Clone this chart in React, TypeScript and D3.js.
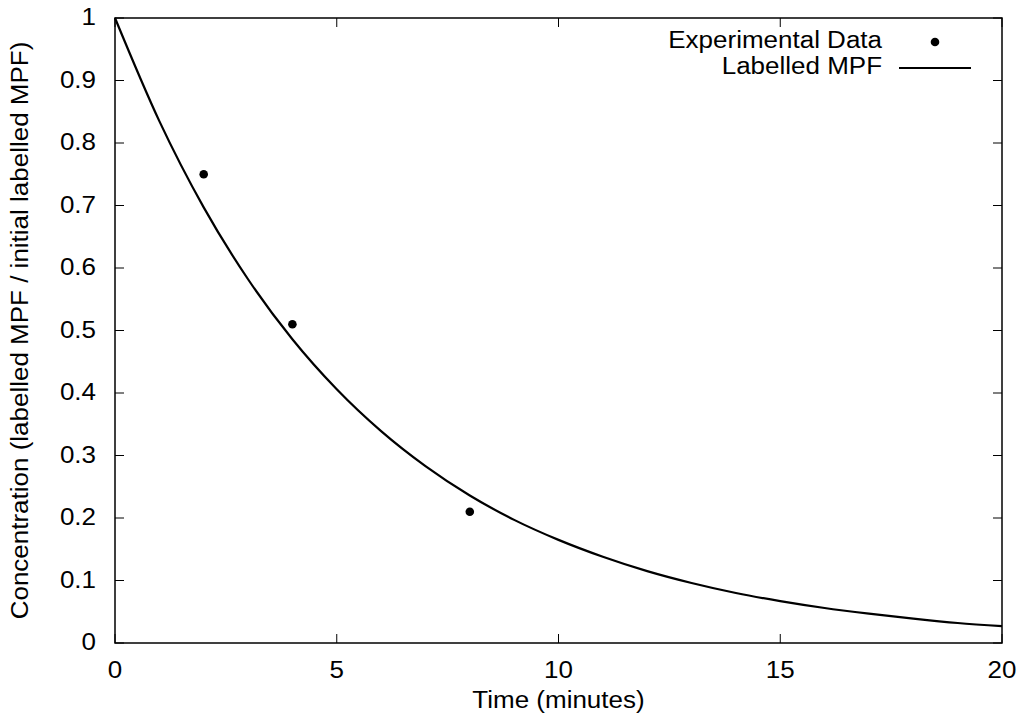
import React, { useEffect, useRef } from 'react';
import * as d3 from 'd3';

// fitted decay curve at each minute
const curveTimes = [0, 1, 2, 3, 4, 5, 6, 7, 8, 9, 10, 11, 12, 13, 14, 15, 16, 17, 18, 19, 20];
const curveValues = [1, 0.835, 0.697, 0.582, 0.486, 0.406, 0.339, 0.283, 0.236, 0.197, 0.165,
  0.138, 0.115, 0.096, 0.080, 0.067, 0.056, 0.047, 0.039, 0.032, 0.027];

// measured points
const expTimes = [2, 4, 8];
const expValues = [0.75, 0.51, 0.21];

const xTicks = [0, 5, 10, 15, 20];
const yTicks = [0, 0.1, 0.2, 0.3, 0.4, 0.5, 0.6, 0.7, 0.8, 0.9, 1];

const legendLabels = ['Experimental Data', 'Labelled MPF'];

const W = 1024;
const H = 727;
const FONT = '"Liberation Sans", Arial, sans-serif';
const STRETCH = 1.13; // the gnuplot font is a bit wider than Liberation Sans

const DecayChart = () => {
  const ref = useRef<SVGSVGElement>(null);

  useEffect(() => {
    const margin = { top: 18, right: 22, bottom: 84, left: 115 };
    const innerWidth = W - margin.left - margin.right;
    const innerHeight = H - margin.top - margin.bottom;

    const svg = d3.select(ref.current);
    svg.selectAll('*').remove();

    // text helper: place at (tx,ty), optional rotation, widened along the reading direction
    const label = (parent: any, tx: number, ty: number, str: string, anchor: string, rot = 0) =>
      parent.append('text')
        .attr('transform', `translate(${tx},${ty}) rotate(${rot}) scale(${STRETCH},1)`)
        .attr('text-anchor', anchor)
        .attr('dominant-baseline', 'middle')
        .style('font-family', FONT).style('font-size', '23px')
        .text(str);

    const g = svg.append('g')
      .attr('transform', `translate(${margin.left},${margin.top})`);

    const x = d3.scaleLinear().domain([0, 20]).range([0, innerWidth]);
    const y = d3.scaleLinear().domain([0, 1]).range([innerHeight, 0]);

    const tick = 9;

    // ticks (mirrored, pointing inward)
    xTicks.forEach(t => {
      g.append('line').attr('x1', x(t)).attr('x2', x(t))
        .attr('y1', innerHeight).attr('y2', innerHeight - tick)
        .attr('stroke', '#000').attr('stroke-width', 1);
      g.append('line').attr('x1', x(t)).attr('x2', x(t))
        .attr('y1', 0).attr('y2', tick)
        .attr('stroke', '#000').attr('stroke-width', 1);
      label(g, x(t), innerHeight + 29, d3.format('d')(t), 'middle');
    });

    yTicks.forEach(t => {
      g.append('line').attr('x1', 0).attr('x2', tick)
        .attr('y1', y(t)).attr('y2', y(t))
        .attr('stroke', '#000').attr('stroke-width', 1);
      g.append('line').attr('x1', innerWidth).attr('x2', innerWidth - tick)
        .attr('y1', y(t)).attr('y2', y(t))
        .attr('stroke', '#000').attr('stroke-width', 1);
      label(g, -19, y(t) + 1, t === 0 || t === 1 ? String(t) : d3.format('.1f')(t), 'end');
    });

    // frame
    g.append('rect')
      .attr('width', innerWidth).attr('height', innerHeight)
      .attr('fill', 'none').attr('stroke', '#000').attr('stroke-width', 1.5);

    // model curve
    const line = d3.line<number>()
      .x((_, i) => x(curveTimes[i]))
      .y(d => y(d))
      .curve(d3.curveMonotoneX);

    g.append('path')
      .datum(curveValues)
      .attr('d', line)
      .attr('fill', 'none')
      .attr('stroke', '#000')
      .attr('stroke-width', 2.2);

    // experimental points
    g.selectAll('circle.pt')
      .data(expValues)
      .enter().append('circle')
      .attr('class', 'pt')
      .attr('cx', (_, i) => x(expTimes[i]))
      .attr('cy', d => y(d))
      .attr('r', 4.3)
      .attr('fill', '#000');

    // axis titles
    label(svg, margin.left + innerWidth / 2, 702, 'Time (minutes)', 'middle');
    label(svg, 22, margin.top + innerHeight / 2, 'Concentration (labelled MPF / initial labelled MPF)', 'middle', -90);

    // legend
    const legend = svg.append('g');
    legendLabels.forEach((text, i) => {
      const ly = 42 + i * 26;
      label(legend, 882, ly, text, 'end');
      if (i === 0) {
        legend.append('circle')
          .attr('cx', 935).attr('cy', ly).attr('r', 4.3).attr('fill', '#000');
      } else {
        legend.append('line')
          .attr('x1', 899).attr('x2', 971).attr('y1', ly).attr('y2', ly)
          .attr('stroke', '#000').attr('stroke-width', 2.2);
      }
    });
  }, []);

  return (
    <svg ref={ref} width={W} height={H}
      style={{ position: 'absolute', left: 0, top: 0, background: '#fff' }} />
  );
};

export default function App() {
  return <DecayChart />;
}
